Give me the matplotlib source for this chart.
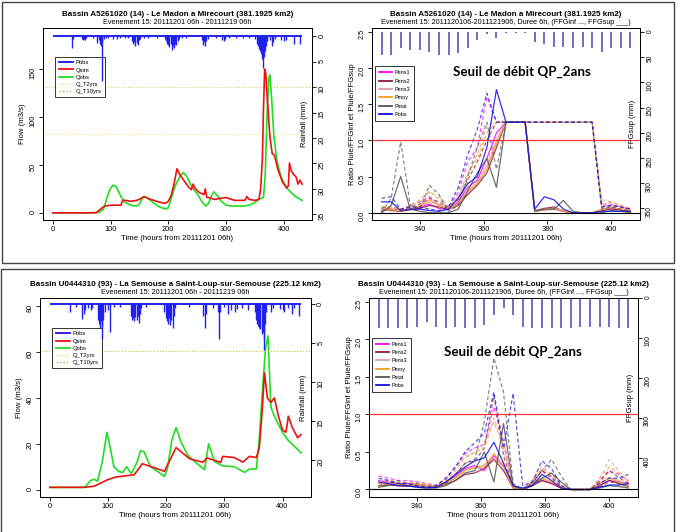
import numpy as np
import matplotlib.pyplot as plt
from matplotlib.patches import Rectangle
from matplotlib.lines import Line2D

plt.rcParams['font.family'] = ['Liberation Sans', 'DejaVu Sans']

# ---------------- data : left panels (flows + hourly rain) ----------------
# top-left : Le Madon a Mirecourt
tl_qobs_h = [0, 60, 80, 88, 95, 100, 105, 110, 118, 125, 135, 145, 150, 155, 160, 165, 175, 185,
             195, 200, 205, 212, 220, 226, 232, 240, 250, 258, 265, 270, 275, 279, 285, 292, 300,
             310, 320, 330, 340, 348, 355, 360, 365, 368, 371, 374, 376, 379, 383, 388, 395, 405,
             420, 432]
tl_qobs = [0, 0, 0.5, 4, 18, 26, 29, 27, 17, 11, 8, 7, 9, 15, 17, 15, 10, 6,
           4, 5, 15, 28, 38, 42, 38, 28, 20, 12, 7, 10, 18, 22, 18, 12, 8,
           7, 7, 7, 8, 10, 13, 15, 16, 40, 100, 140, 144, 120, 80, 55, 38, 26,
           17, 13]
tl_qsim_h = [0, 75, 85, 90, 100, 110, 118, 121, 125, 135, 145, 150, 155, 158, 165, 175, 185, 195,
             200, 205, 210, 215, 220, 228, 235, 240, 243, 246, 252, 258, 262, 264, 267, 270, 280,
             290, 300, 305, 315, 325, 333, 336, 340, 350, 357, 360, 363, 365, 367, 369, 372, 376,
             380, 384, 390, 398, 405, 408, 410, 413, 417, 421, 425, 428, 432]
tl_qsim = [0, 0, 5, 7, 8, 8, 8, 13, 13, 12, 13, 14, 16, 17, 15, 13, 11, 10,
           12, 18, 30, 46, 40, 33, 27, 24, 30, 26, 22, 20, 19, 25, 16, 16, 14,
           15, 16, 15, 13, 13, 13, 17, 14, 13, 14, 25, 55, 110, 150, 145, 115, 80,
           62, 60, 45, 32, 26, 28, 52, 44, 40, 38, 30, 34, 30]
tl_rain_h = [34, 35, 50, 52, 54, 56, 58, 70, 76, 80, 82, 84, 85, 86, 88, 92, 96, 105, 112, 116,
             125, 130, 137, 139, 141, 143, 145, 147, 149, 151, 158, 165, 180, 194, 196, 198, 200,
             202, 204, 206, 208, 210, 212, 214, 216, 218, 224, 230, 258, 260, 262, 264, 266, 268,
             282, 293, 296, 298, 306, 318, 330, 340, 350, 353, 355, 357, 359, 361, 363, 364, 365,
             367, 369, 371, 376, 379, 382, 385, 396, 400, 404, 417, 428]
tl_rain = [2.4, 0.5, 0.6, 0.8, 0.5, 0.8, 0.4, 0.4, 1.4, 0.8, 1.5, 2.0, 8.8, 1.2, 0.6, 0.4, 0.3,
           0.5, 0.6, 0.4, 0.3, 0.4, 1.0, 1.6, 1.2, 2.0, 1.4, 1.8, 0.8, 0.5, 0.4, 0.3, 0.3, 0.6,
           1.0, 1.5, 1.8, 2.2, 1.6, 2.7, 2.0, 2.4, 1.5, 1.8, 1.0, 0.5, 0.3, 0.3, 0.8, 1.8, 1.2,
           2.0, 1.0, 0.5, 0.3, 0.8, 1.0, 0.5, 0.3, 0.3, 0.3, 0.4, 0.5, 1.5, 2.0, 2.5, 3.0, 3.5,
           4.5, 6.3, 4.0, 3.0, 2.0, 1.0, 0.8, 2.0, 1.2, 0.6, 0.8, 1.0, 0.8, 1.5, 1.5]
tl_qt2, tl_qt10 = 82, 131

# bottom-left : La Semouse a Saint-Loup-sur-Semouse
bl_qobs_h = [0, 60, 70, 76, 82, 90, 98, 104, 110, 118, 125, 132, 140, 150, 156, 162, 173, 185,
             197, 202, 210, 217, 225, 237, 250, 266, 273, 283, 297, 317, 335, 343, 355, 360, 366,
             371, 375, 380, 386, 392, 400, 409, 420, 432]
bl_qobs = [1, 1, 4, 4.5, 3.7, 12, 25, 18, 10, 8, 7.4, 10, 7, 12, 17, 16.5, 10, 8,
           5.7, 9, 22, 27, 21, 15, 12, 8.7, 20, 12.3, 10.4, 10, 7.5, 9, 9, 22, 45,
           62, 67, 36, 32, 29, 25, 21.7, 19, 16]
bl_qsim_h = [0, 60, 76, 87, 99, 113, 133, 145, 159, 179, 197, 217, 240, 263, 270, 294, 297, 317,
             332, 343, 355, 360, 365, 369, 374, 380, 386, 393, 400, 406, 410, 417, 426, 432]
bl_qsim = [1, 1, 1.5, 2.8, 4.3, 5.5, 6.1, 6.5, 11.3, 9.6, 8, 18.3, 13.5, 11.9, 13.8, 11.9, 14.5, 14,
           12, 14.5, 14, 18, 34, 51, 40, 38, 40, 32, 26, 25, 32, 27, 22.6, 24]
bl_rain_h = [35, 45, 56, 58, 60, 66, 70, 72, 82, 84, 86, 88, 89, 90, 92, 94, 100, 104, 110, 120,
             139, 141, 143, 145, 147, 149, 151, 153, 155, 157, 165, 197, 199, 201, 203, 205, 207,
             209, 211, 213, 215, 240, 264, 266, 268, 280, 289, 291, 293, 300, 306, 312, 318, 322,
             330, 340, 352, 354, 356, 358, 360, 362, 364, 366, 368, 369, 370, 372, 380, 384, 396,
             400, 403, 410, 416, 420, 428]
bl_rain = [1.0, 0.3, 1.9, 1.2, 0.8, 0.5, 0.8, 0.5, 2.0, 2.5, 3.0, 2.2, 4.5, 2.8, 2.0, 1.0, 0.8,
           3.5, 0.4, 0.3, 1.5, 2.0, 1.8, 2.2, 1.6, 2.0, 1.5, 2.4, 1.2, 0.5, 0.4, 1.0, 1.8, 2.2,
           2.5, 1.8, 2.7, 2.0, 3.0, 1.5, 0.5, 0.3, 1.5, 3.0, 1.2, 0.5, 1.0, 4.5, 1.0, 0.4, 1.2,
           0.8, 1.0, 0.6, 0.5, 0.7, 1.0, 2.0, 2.5, 2.8, 3.0, 3.2, 3.8, 3.5, 4.5, 5.9, 2.5, 1.0,
           1.0, 0.5, 0.6, 0.8, 1.0, 0.5, 1.2, 0.5, 1.5]
bl_qt2, bl_qt10 = 60.5, 60.5

# ---------------- data : right panels (ratios, 3-hourly) ----------------
hours = [328, 331, 334, 337, 340, 343, 346, 349, 352, 355, 358, 361, 364, 367, 370, 373, 376,
         379, 382, 385, 388, 391, 394, 397, 400, 403, 406]
series = ['Pens1', 'Pens2', 'Pens3', 'Pmoy', 'Pstat', 'Pobs']
colors = ['#ff00ff', '#8b1a3a', '#d9a0a0', '#f0a020', '#555555', '#1010e0']

tr_bar = [45, 45, 32, 36, 36, 39, 45, 45, 42, 32, 16, 3, 12, 2, 2, 2, 20, 23, 29, 29, 32, 29,
          32, 39, 32, 32, 32]
tr_sup = {
    'Pens1': [0.02, 0.05, 0.03, 0.05, 0.08, 0.12, 0.06, 0.04, 0.15, 0.35, 0.45, 0.75, 1.10, 1.25, 1.25, 1.25, 0.02, 0.04, 0.05, 0.02, 0.00, 0.00, 0.00, 0.04, 0.06, 0.04, 0.02],
    'Pens2': [0.05, 0.03, 0.02, 0.04, 0.06, 0.10, 0.08, 0.05, 0.10, 0.25, 0.38, 0.55, 0.90, 1.25, 1.25, 1.25, 0.03, 0.06, 0.08, 0.02, 0.00, 0.00, 0.00, 0.03, 0.05, 0.04, 0.02],
    'Pens3': [0.03, 0.04, 0.03, 0.06, 0.09, 0.15, 0.12, 0.06, 0.12, 0.28, 0.42, 0.65, 1.00, 1.25, 1.25, 1.25, 0.02, 0.05, 0.06, 0.03, 0.00, 0.00, 0.00, 0.04, 0.07, 0.05, 0.03],
    'Pmoy':  [0.05, 0.05, 0.03, 0.05, 0.10, 0.18, 0.10, 0.05, 0.12, 0.30, 0.40, 0.60, 0.95, 1.25, 1.25, 1.25, 0.02, 0.04, 0.06, 0.02, 0.00, 0.00, 0.00, 0.05, 0.08, 0.05, 0.03],
    'Pstat': [0.00, 0.10, 0.50, 0.05, 0.02, 0.00, 0.00, 0.00, 0.05, 0.30, 0.55, 0.75, 0.35, 1.25, 1.25, 1.25, 0.02, 0.05, 0.05, 0.17, 0.02, 0.00, 0.00, 0.00, 0.03, 0.02, 0.00],
    'Pobs':  [0.15, 0.15, 0.03, 0.05, 0.05, 0.03, 0.02, 0.05, 0.20, 0.40, 0.50, 0.90, 1.70, 1.25, 1.25, 1.25, 0.05, 0.22, 0.18, 0.05, 0.00, 0.00, 0.00, 0.02, 0.02, 0.02, 0.02],
}
tr_inf = {
    'Pens1': [0.05, 0.08, 0.05, 0.10, 0.15, 0.22, 0.12, 0.07, 0.28, 0.70, 0.90, 1.60, 1.25, 1.25, 1.25, 1.25, 1.25, 1.25, 1.25, 1.25, 1.25, 1.25, 1.25, 0.10, 0.12, 0.08, 0.05],
    'Pens2': [0.08, 0.05, 0.04, 0.07, 0.12, 0.20, 0.15, 0.08, 0.18, 0.45, 0.70, 1.00, 1.25, 1.25, 1.25, 1.25, 1.25, 1.25, 1.25, 1.25, 1.25, 1.25, 1.25, 0.08, 0.10, 0.08, 0.04],
    'Pens3': [0.05, 0.07, 0.05, 0.10, 0.16, 0.28, 0.22, 0.10, 0.22, 0.50, 0.80, 1.20, 1.25, 1.25, 1.25, 1.25, 1.25, 1.25, 1.25, 1.25, 1.25, 1.25, 1.25, 0.18, 0.15, 0.10, 0.06],
    'Pmoy':  [0.08, 0.08, 0.05, 0.08, 0.18, 0.30, 0.18, 0.08, 0.22, 0.55, 0.75, 1.10, 1.25, 1.25, 1.25, 1.25, 1.25, 1.25, 1.25, 1.25, 1.25, 1.25, 1.25, 0.12, 0.15, 0.10, 0.06],
    'Pstat': [0.00, 0.20, 0.98, 0.10, 0.05, 0.38, 0.25, 0.02, 0.10, 0.50, 0.90, 1.25, 0.60, 1.25, 1.25, 1.25, 1.25, 1.25, 1.25, 1.25, 1.25, 1.25, 1.25, 0.05, 0.08, 0.05, 0.02],
    'Pobs':  [0.20, 0.22, 0.05, 0.08, 0.08, 0.05, 0.03, 0.08, 0.35, 0.80, 1.15, 1.65, 1.25, 1.25, 1.25, 1.25, 1.25, 1.25, 1.25, 1.25, 1.25, 1.25, 1.25, 0.08, 0.10, 0.08, 0.05],
}

br_bar = [76, 76, 76, 76, 72, 59, 72, 76, 72, 76, 76, 68, 42, 26, 42, 72, 76, 76, 76, 76, 76,
          72, 72, 72, 72, 76, 76]
br_sup = {
    'Pens1': [0.12, 0.10, 0.08, 0.08, 0.07, 0.05, 0.04, 0.10, 0.18, 0.28, 0.32, 0.25, 0.45, 0.32, 0.03, 0.00, 0.06, 0.12, 0.08, 0.02, 0.00, 0.00, 0.00, 0.06, 0.12, 0.10, 0.08],
    'Pens2': [0.05, 0.06, 0.05, 0.04, 0.05, 0.04, 0.03, 0.07, 0.12, 0.20, 0.22, 0.28, 0.40, 0.25, 0.02, 0.00, 0.05, 0.12, 0.08, 0.02, 0.00, 0.00, 0.00, 0.05, 0.12, 0.08, 0.04],
    'Pens3': [0.08, 0.09, 0.07, 0.06, 0.07, 0.05, 0.04, 0.09, 0.16, 0.26, 0.28, 0.33, 0.42, 0.30, 0.03, 0.00, 0.07, 0.14, 0.10, 0.03, 0.00, 0.00, 0.00, 0.07, 0.16, 0.12, 0.06],
    'Pmoy':  [0.05, 0.08, 0.06, 0.05, 0.06, 0.04, 0.03, 0.08, 0.15, 0.25, 0.30, 0.30, 0.48, 0.30, 0.02, 0.00, 0.08, 0.15, 0.10, 0.03, 0.00, 0.00, 0.00, 0.08, 0.15, 0.10, 0.05],
    'Pstat': [0.03, 0.05, 0.08, 0.05, 0.03, 0.02, 0.02, 0.05, 0.12, 0.22, 0.25, 0.50, 0.10, 0.88, 0.05, 0.00, 0.05, 0.15, 0.22, 0.10, 0.00, 0.00, 0.00, 0.02, 0.05, 0.04, 0.02],
    'Pobs':  [0.10, 0.08, 0.05, 0.05, 0.03, 0.02, 0.03, 0.10, 0.20, 0.30, 0.38, 0.42, 0.63, 0.35, 0.05, 0.02, 0.05, 0.20, 0.12, 0.02, 0.00, 0.00, 0.00, 0.03, 0.06, 0.06, 0.08],
}
br_inf = {
    'Pens1': [0.18, 0.15, 0.12, 0.12, 0.10, 0.08, 0.06, 0.15, 0.30, 0.48, 0.55, 0.60, 1.10, 0.65, 0.05, 0.00, 0.10, 0.25, 0.18, 0.04, 0.00, 0.00, 0.00, 0.12, 0.25, 0.20, 0.12],
    'Pens2': [0.08, 0.09, 0.08, 0.06, 0.08, 0.06, 0.04, 0.10, 0.20, 0.35, 0.38, 0.55, 1.25, 0.45, 0.04, 0.00, 0.08, 0.25, 0.15, 0.04, 0.00, 0.00, 0.00, 0.10, 0.25, 0.16, 0.08],
    'Pens3': [0.12, 0.13, 0.10, 0.09, 0.10, 0.07, 0.06, 0.13, 0.28, 0.45, 0.48, 0.62, 0.90, 0.55, 0.05, 0.00, 0.12, 0.30, 0.20, 0.06, 0.00, 0.00, 0.00, 0.14, 0.40, 0.25, 0.10],
    'Pmoy':  [0.08, 0.12, 0.10, 0.08, 0.09, 0.06, 0.05, 0.12, 0.25, 0.42, 0.50, 0.55, 0.95, 0.60, 0.05, 0.00, 0.12, 0.28, 0.20, 0.05, 0.00, 0.00, 0.00, 0.15, 0.30, 0.22, 0.10],
    'Pstat': [0.05, 0.08, 0.12, 0.08, 0.05, 0.03, 0.03, 0.08, 0.20, 0.35, 0.40, 0.90, 1.75, 1.30, 0.08, 0.00, 0.08, 0.25, 0.40, 0.18, 0.00, 0.00, 0.00, 0.03, 0.10, 0.08, 0.04],
    'Pobs':  [0.15, 0.12, 0.08, 0.08, 0.05, 0.03, 0.05, 0.15, 0.30, 0.50, 0.62, 0.75, 1.30, 0.55, 1.28, 0.05, 0.10, 0.38, 0.28, 0.05, 0.00, 0.00, 0.00, 0.08, 0.15, 0.15, 0.20],
}

title_tl = 'Bassin A5261020 (14) - Le Madon a Mirecourt (381.1925 km2)'
title_bl = 'Bassin U0444310 (93) - La Semouse a Saint-Loup-sur-Semouse (225.12 km2)'
sub_left = 'Evenement 15: 20111201 06h - 20111219 06h'
sub_right = 'Evenement 15: 2011120106-2011121906, Duree 6h, (FFGinf ..., FFGsup ___)'
xlab = 'Time (hours from 20111201 06h)'

W, H = 680, 532
fig = plt.figure(figsize=(6.8, 5.32), dpi=100)


def box(x0, y0, x1, y1):
    # pixel box (top-left origin) -> figure axes rect
    return [x0 / W, 1 - y1 / H, (x1 - x0) / W, (y1 - y0) / H]


def style(ax):
    ax.tick_params(length=3, width=0.6, labelsize=5.3, pad=1.5)
    ax.tick_params(axis='y', labelrotation=90)
    for s in ax.spines.values():
        s.set_linewidth(0.7)


def left_panel(rect, title, qh, qo, sh, qs, rh, rr, qt2, qt10, flim, fticks, rlim, rticks):
    ax = fig.add_axes(box(*rect))
    ax.plot(sh, qs, color='#ee1111', lw=1.2, zorder=3)
    ax.plot(qh, qo, color='#22dd22', lw=1.2, zorder=2)
    ax.axhline(qt2, color='#f0d860', lw=0.7, ls=(0, (1, 2)))
    ax.axhline(qt10, color='#e0c040', lw=0.7, ls=(0, (1, 2)))
    ax.set_xlim(-17, 449)
    ax.set_ylim(*flim)
    ax.set_yticks(fticks)
    ax.set_xticks([0, 100, 200, 300, 400])
    style(ax)
    ax.set_ylabel('Flow (m3/s)', fontsize=5.6, labelpad=3)
    ax.set_xlabel(xlab, fontsize=5.6, labelpad=1)
    ax2 = ax.twinx()
    ax2.hlines(0, 0, 432, color='#1010ee', lw=1.3)
    ax2.vlines(rh, 0, rr, color='#2020ee', lw=1.0)
    ax2.set_ylim(*rlim)
    ax2.set_yticks(rticks)
    style(ax2)
    ax2.text(0.985, 0.5, 'Rainfall (mm)', transform=ax2.transAxes, rotation=90,
             fontsize=5.6, ha='right', va='center')
    ax.set_title(title, fontsize=5.8, fontweight='bold', pad=8.5)
    ax.text(0.5, 1.01, sub_left, transform=ax.transAxes, ha='center', va='bottom', fontsize=5.2)
    hdl = [Line2D([], [], color='#1010ee', lw=1.3), Line2D([], [], color='#ee1111', lw=1.3),
           Line2D([], [], color='#22dd22', lw=1.3),
           Line2D([], [], color='#f0d860', lw=1.0, ls=(0, (1, 1.5))),
           Line2D([], [], color='#e0a040', lw=1.0, ls=(0, (1, 1.5)))]
    leg = ax.legend(hdl, ['Pobs', 'Qsim', 'Qobs', 'Q_T2yrs', 'Q_T10yrs'], loc='upper left',
                    bbox_to_anchor=(0.045, 0.85), fontsize=4.2, frameon=True, fancybox=False,
                    edgecolor='black', handlelength=2.4, labelspacing=0.35, borderpad=0.6,
                    handletextpad=0.5, borderaxespad=0)
    leg.get_frame().set_linewidth(0.7)
    return ax


def right_panel(rect, title, bars, sup, inf, ffg_lim, ffg_ticks, seuil_xy):
    ax = fig.add_axes(box(*rect))
    for name, c in zip(series, colors):
        ax.plot(hours, inf[name], color=c, lw=0.9, ls=(0, (3, 2)), alpha=0.7)
        ax.plot(hours, sup[name], color=c, lw=0.9, alpha=0.85)
    ax.axhline(1.0, color='#ff3333', lw=0.9)
    ax.axhline(0.0, color='black', lw=0.8)
    ax.set_xlim(325, 409)
    ax.set_ylim(-0.1, 2.55)
    ax.set_yticks([0.0, 0.5, 1.0, 1.5, 2.0, 2.5])
    ax.set_yticklabels(['0.0', '0.5', '1.0', '1.5', '2.0', '2.5'])
    ax.set_xticks([340, 360, 380, 400])
    style(ax)
    ax.set_ylabel('Ratio Pluie/FFGinf et Pluie/FFGsup', fontsize=5.6, labelpad=2)
    ax.set_xlabel(xlab, fontsize=5.6, labelpad=1)
    ax2 = ax.twinx()
    ax2.vlines(hours, 0, bars, color='#5555bb', lw=1.2)
    ax2.set_ylim(*ffg_lim)
    ax2.set_yticks(ffg_ticks)
    style(ax2)
    ax2.tick_params(labelsize=4.8)
    ax2.text(0.985, 0.5, 'FFGsup (mm)', transform=ax2.transAxes, rotation=90,
             fontsize=5.6, ha='right', va='center')
    ax.set_title(title, fontsize=5.8, fontweight='bold', pad=8.5)
    ax.text(0.5, 1.01, sub_right, transform=ax.transAxes, ha='center', va='bottom', fontsize=5.2)
    ax.text(seuil_xy[0], seuil_xy[1], 'Seuil de débit QP_2ans', transform=ax.transAxes,
            ha='center', va='center', fontsize=9.6, family='Lato', fontweight='bold')
    hdl = [Line2D([], [], color=c, lw=1.3) for c in colors]
    leg = ax.legend(hdl, series, loc='upper left', bbox_to_anchor=(0.01, 0.8), fontsize=4.0,
                    frameon=True, fancybox=False, edgecolor='black', handlelength=2.4,
                    labelspacing=0.6, borderpad=0.7, handletextpad=0.5, borderaxespad=0)
    leg.get_frame().set_linewidth(0.7)
    return ax


left_panel((43, 28, 312, 220), title_tl, tl_qobs_h, tl_qobs, tl_qsim_h, tl_qsim,
           tl_rain_h, tl_rain, tl_qt2, tl_qt10, (-7.5, 193), [0, 50, 100, 150],
           (36.1, -1.6), [0, 5, 10, 15, 20, 25, 30, 35])
left_panel((40, 298, 311, 497), title_bl, bl_qobs_h, bl_qobs, bl_qsim_h, bl_qsim,
           bl_rain_h, bl_rain, bl_qt2, bl_qt10, (-3.2, 83.5), [0, 20, 40, 60, 80],
           (24.7, -0.8), [0, 5, 10, 15, 20])
right_panel((372, 28, 640, 220), title_tl, tr_bar, tr_sup, tr_inf, (373, -8),
            [0, 50, 100, 150, 200, 250, 300, 350], (0.56, 0.77))
right_panel((369, 298, 638, 497), title_bl, br_bar, br_sup, br_inf, (497, 0),
            [0, 100, 200, 300, 400], (0.535, 0.73))

# grey frames around the two rows
fig.add_artist(Rectangle((2 / W, 1 - 263 / H), 672 / W, 261 / H, transform=fig.transFigure,
                         fill=False, ec='#444444', lw=1.0))
fig.add_artist(Rectangle((1 / W, -0.01), 673 / W, 1 - 269 / H + 0.01, transform=fig.transFigure,
                         fill=False, ec='#444444', lw=1.0))

fig.savefig('out.png', dpi=100)
